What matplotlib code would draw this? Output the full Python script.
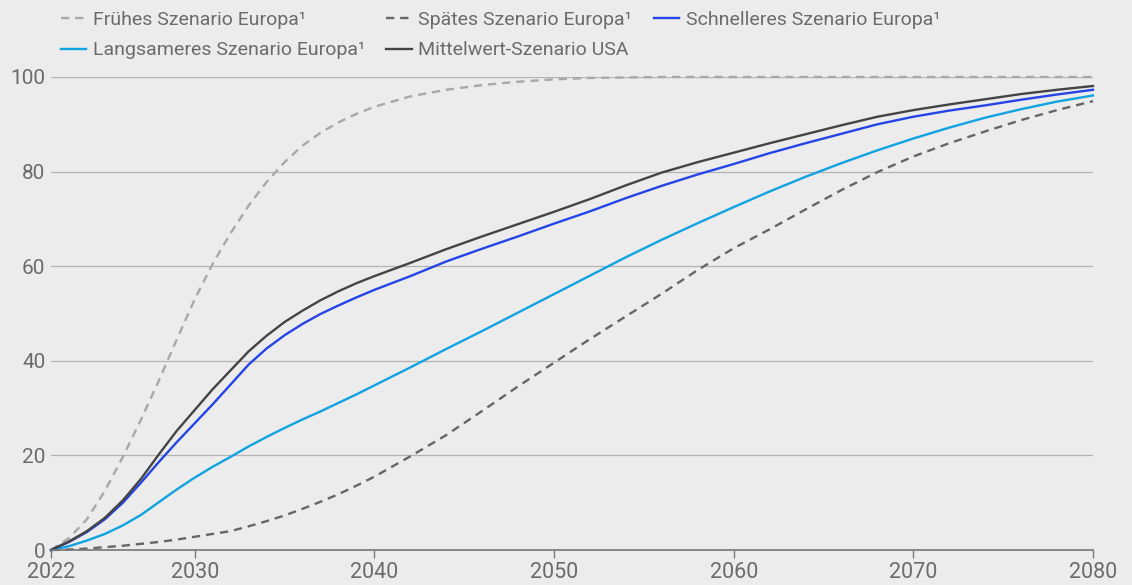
import matplotlib
matplotlib.use("Agg")
import matplotlib.pyplot as plt

plt.rcParams['font.family'] = ['Roboto', 'DejaVu Sans']

years = list(range(2022, 2041)) + list(range(2042, 2081, 2))

# Frühes Szenario Europa
fruehes = [0, 2.5, 6.5, 12.5, 19.7, 27.5, 35.8, 44.5, 53, 60.5, 67, 72.8, 77.8, 82.0, 85.5, 88.2, 90.4, 92.2, 93.7,
           95.9, 97.3, 98.3, 99.0, 99.5, 99.8, 99.9, 100, 100, 100, 100, 100, 100, 100, 100, 100, 100, 100, 100, 100]
# Spätes Szenario Europa
spaetes = [0, 0.1, 0.3, 0.6, 0.9, 1.3, 1.7, 2.2, 2.8, 3.4, 4.0, 5.0, 6.1, 7.3, 8.7, 10.2, 11.8, 13.6, 15.5,
           19.8, 24.3, 29.4, 34.6, 39.6, 44.6, 49.4, 54.2, 59.2, 63.8, 67.8, 72.0, 76.1, 79.9, 83.2, 86.0, 88.5,
           90.9, 93.0, 94.9]
# Schnelleres Szenario Europa
schnelleres = [0, 1.7, 3.8, 6.5, 10.0, 14.2, 18.6, 22.8, 26.8, 30.8, 35.0, 39.2, 42.6, 45.4, 47.8, 49.9, 51.7,
               53.4, 55.0, 57.9, 61.0, 63.7, 66.3, 69.0, 71.6, 74.4, 77.0, 79.4, 81.6, 83.9, 86.0, 88.0, 90.0,
               91.6, 92.9, 94.0, 95.2, 96.3, 97.3]
# Langsameres Szenario Europa
langsameres = [0, 0.8, 2.0, 3.4, 5.2, 7.4, 10.1, 12.8, 15.3, 17.6, 19.7, 21.9, 23.9, 25.8, 27.6, 29.3, 31.1,
               32.9, 34.8, 38.6, 42.5, 46.3, 50.2, 54.1, 58.0, 61.9, 65.6, 69.1, 72.5, 75.8, 78.9, 81.8, 84.5,
               87.0, 89.3, 91.4, 93.2, 94.8, 96.1]
# Mittelwert-Szenario USA
usa = [0, 1.8, 4.0, 6.8, 10.5, 15, 20.2, 25.2, 29.6, 34, 38, 42, 45.3, 48.2, 50.6, 52.8, 54.7, 56.4, 57.9,
       60.7, 63.6, 66.3, 68.9, 71.5, 74.2, 77.1, 79.8, 82.0, 84.0, 86.0, 87.9, 89.8, 91.6, 93.0, 94.2, 95.3,
       96.4, 97.3, 98.1]

x_ticks = [2022, 2030, 2040, 2050, 2060, 2070, 2080]
y_ticks = [0, 20, 40, 60, 80, 100]

bg = '#ececec'
txt = '#6b6b6b'

fig = plt.figure(figsize=(11.32, 5.85), dpi=100, facecolor=bg)
ax = fig.add_axes([51 / 1132, 35 / 585, 1042 / 1132, 473 / 585], facecolor=bg)

lw = 1.7
l_f, = ax.plot(years, fruehes, color='#a8a8a8', lw=lw, ls=(0, (3.5, 2.5)), clip_on=False,
               label='Frühes Szenario Europa¹')
l_p, = ax.plot(years, spaetes, color='#666666', lw=lw, ls=(0, (3.5, 2.5)), clip_on=False,
               label='Spätes Szenario Europa¹')
l_l, = ax.plot(years, langsameres, color='#0fa3e2', lw=lw, clip_on=False,
               label='Langsameres Szenario Europa¹')
l_s, = ax.plot(years, schnelleres, color='#2444e8', lw=lw, clip_on=False,
               label='Schnelleres Szenario Europa¹')
l_m, = ax.plot(years, usa, color='#444444', lw=lw, clip_on=False,
               label='Mittelwert-Szenario USA')

ax.set_xlim(2022, 2080)
ax.set_ylim(0, 100)
ax.set_xticks(x_ticks)
ax.set_yticks(y_ticks)
ax.grid(axis='y', color='#b4b4b4', lw=0.9)
ax.set_axisbelow(True)
for s in ['top', 'right', 'left']:
    ax.spines[s].set_visible(False)
ax.spines['bottom'].set_color('#777777')
ax.spines['bottom'].set_linewidth(1.2)
ax.tick_params(axis='x', length=6, width=1, color='#777777', labelcolor=txt, labelsize=15.5, pad=3)
ax.tick_params(axis='y', length=0, labelcolor=txt, labelsize=15, pad=4)

handles = [l_f, l_l, l_p, l_m, l_s]
leg = fig.legend(handles=handles, labels=[h.get_label() for h in handles], ncol=3,
                 loc='upper left', bbox_to_anchor=(50 / 1132, 1.0), frameon=False,
                 fontsize=14, handlelength=1.3, handletextpad=0.35, columnspacing=1.1,
                 labelspacing=0.65, borderaxespad=0.15)
for t in leg.get_texts():
    t.set_color(txt)

fig.savefig('out.png', dpi=100, facecolor=bg)
